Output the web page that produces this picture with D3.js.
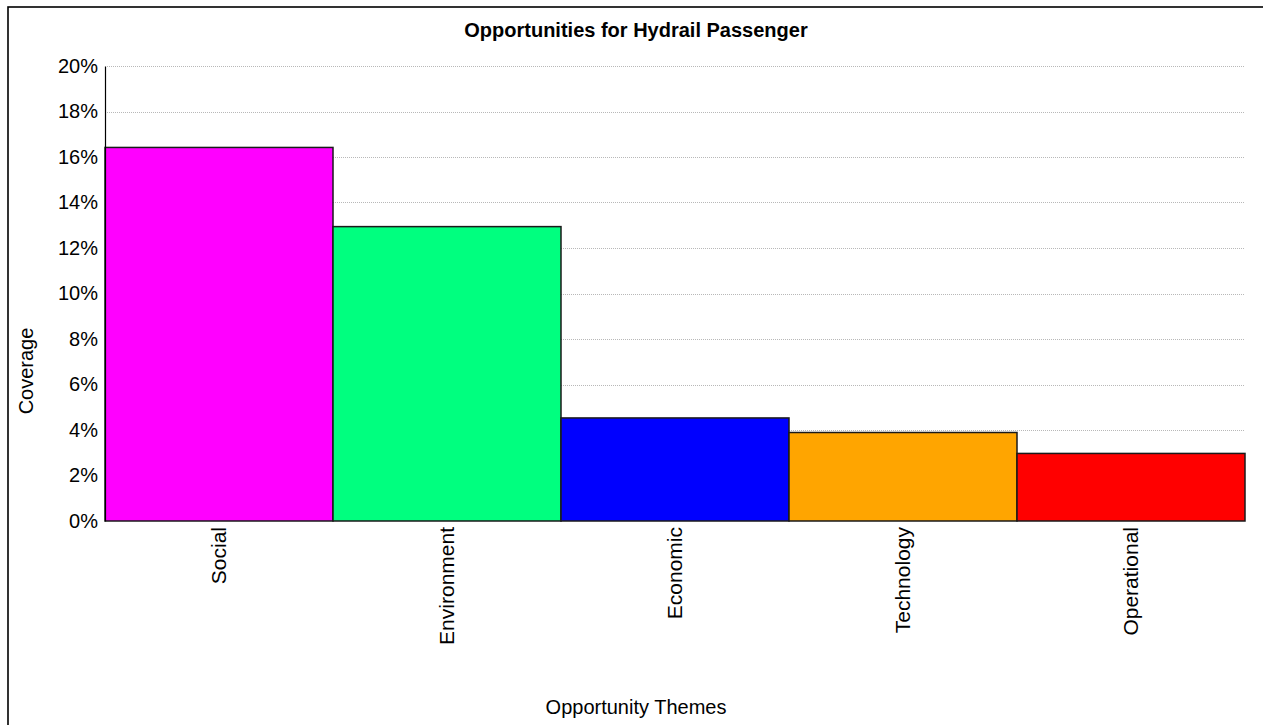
<!DOCTYPE html>
<html>
<head>
<meta charset="utf-8">
<script src="https://cdn.jsdelivr.net/npm/d3@7"></script>
<style>
  html, body { margin: 0; padding: 0; background: #fff; }
  svg { display: block; }
  text { font-family: "Liberation Sans", Arial, sans-serif; fill: #000; }
</style>
</head>
<body>
<svg id="chart" width="1263" height="725"></svg>
<script>
const categories = ["Social", "Environment", "Economic", "Technology", "Operational"];
const coverage = [0.1642, 0.1294, 0.0453, 0.0389, 0.0297];
const barColors = ["#ff00ff", "#00ff7f", "#0000ff", "#ffa500", "#ff0000"];
const yTicks = [0, 0.02, 0.04, 0.06, 0.08, 0.10, 0.12, 0.14, 0.16, 0.18, 0.20];
const titleText = "Opportunities for Hydrail Passenger";
const xTitle = "Opportunity Themes";
const yTitle = "Coverage";

const svg = d3.select("#chart");
const W = 1263, H = 725;
const margin = { left: 105, right: 18, top: 66, bottom: 204 };
const plotW = W - margin.left - margin.right;
const plotH = H - margin.top - margin.bottom;

// outer frame
svg.append("rect")
  .attr("x", 8).attr("y", 7)
  .attr("width", W + 20).attr("height", H + 20)
  .attr("fill", "none").attr("stroke", "#000").attr("stroke-width", 1.6);

const g = svg.append("g").attr("transform", `translate(${margin.left},${margin.top})`);

const x = d3.scaleBand().domain(categories).range([0, plotW]).paddingInner(0).paddingOuter(0);
const y = d3.scaleLinear().domain([0, 0.20]).range([plotH, 0]);

// gridlines
g.append("g")
  .selectAll("line")
  .data(yTicks.filter(d => d > 0))
  .join("line")
  .attr("x1", 2).attr("x2", plotW)
  .attr("y1", d => Math.round(y(d)) + 0.5).attr("y2", d => Math.round(y(d)) + 0.5)
  .attr("stroke", "#b8b8b8").attr("stroke-width", 1)
  .attr("stroke-dasharray", "1,1");

// bars
g.append("g")
  .selectAll("rect")
  .data(categories)
  .join("rect")
  .attr("x", d => x(d))
  .attr("y", (d, i) => y(coverage[i]))
  .attr("width", x.bandwidth())
  .attr("height", (d, i) => plotH - y(coverage[i]))
  .attr("fill", (d, i) => barColors[i])
  .attr("stroke", "#1a1a1a").attr("stroke-width", 1.5);

// y axis
const yAxis = d3.axisLeft(y).tickValues(yTicks).tickSize(0).tickPadding(7)
  .tickFormat(d3.format(".0%"));
const ya = g.append("g").call(yAxis);
ya.select(".domain").attr("stroke", "#000").attr("stroke-width", 1.2);
ya.selectAll("text").style("font-size", "20px").attr("fill", "#000")
  .style("font-family", "'Liberation Sans', Arial, sans-serif");

// x axis
const xAxis = d3.axisBottom(x).tickSize(0).tickPadding(0);
const xa = g.append("g").attr("transform", `translate(0,${plotH})`).call(xAxis);
xa.select(".domain").remove();
xa.selectAll("text")
  .style("font-size", "21px")
  .style("font-family", "'Liberation Sans', Arial, sans-serif")
  .attr("fill", "#000")
  .attr("text-anchor", "end")
  .attr("transform", "rotate(-90)")
  .attr("x", -6)
  .attr("y", 0)
  .attr("dy", "0.35em");

// title
svg.append("text")
  .attr("x", 636).attr("y", 37)
  .attr("text-anchor", "middle")
  .style("font-size", "20px").style("font-weight", "bold")
  .text(titleText);

// x title
svg.append("text")
  .attr("x", 636).attr("y", 714)
  .attr("text-anchor", "middle")
  .style("font-size", "20px")
  .text(xTitle);

// y title
svg.append("text")
  .attr("transform", "translate(33,371) rotate(-90)")
  .attr("text-anchor", "middle")
  .style("font-size", "20px")
  .text(yTitle);
</script>
</body>
</html>
